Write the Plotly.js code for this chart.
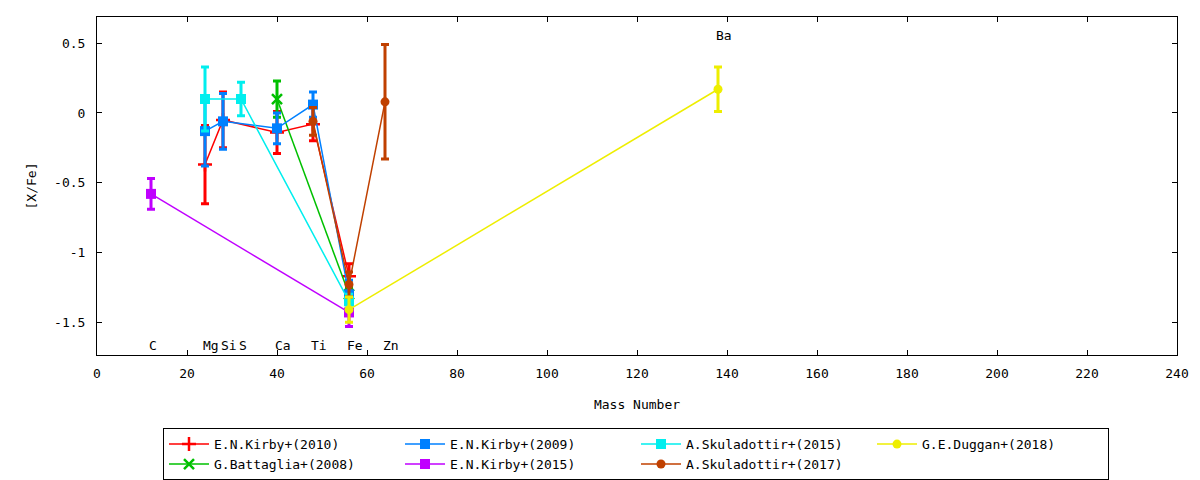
<!DOCTYPE html>
<html>
<head>
<meta charset="utf-8">
<script src="https://cdn.plot.ly/plotly-3.0.1.min.js"></script>
<style>html,body{margin:0;padding:0;background:#fff;}#chart{width:1200px;height:480px;}</style>
</head>
<body>
<div id="chart"></div>
<script>
// ---- data ----
const kirby2010Mass = [24, 28, 40, 48, 56];
const kirby2010Val  = [-0.37, -0.05, -0.14, -0.08, -1.17];
const kirby2010Err  = [0.28, 0.20, 0.15, 0.12, 0.09];

const battaglia2008Mass = [40, 56];
const battaglia2008Val  = [0.10, -1.30];
const battaglia2008Err  = [0.13, 0.05];

const kirby2009Mass = [24, 28, 40, 48, 56];
const kirby2009Val  = [-0.13, -0.06, -0.11, 0.06, -1.30];
const kirby2009Err  = [0.25, 0.20, 0.11, 0.09, 0.10];

const kirby2015Mass = [12, 56];
const kirby2015Val  = [-0.58, -1.43];
const kirby2015Err  = [0.11, 0.10];

const sku2015Mass = [24, 32, 56];
const sku2015Val  = [0.10, 0.10, -1.35];
const sku2015Err  = [0.23, 0.12, 0.05];

const sku2017Mass = [48, 56, 64];
const sku2017Val  = [-0.06, -1.23, 0.08];
const sku2017Err  = [0.10, 0.09, 0.41];

const duggan2018Mass = [56, 138];
const duggan2018Val  = [-1.41, 0.17];
const duggan2018Err  = [0.09, 0.16];

const elemNames = ["C", "Mg", "Si", "S", "Ca", "Ti", "Fe", "Zn", "Ba"];
const elemMass  = [12, 24, 28, 32, 40, 48, 56, 64, 138];
const elemLabelY = [-1.665, -1.665, -1.665, -1.665, -1.665, -1.665, -1.665, -1.665, 0.552];

const xTickVals = [0, 20, 40, 60, 80, 100, 120, 140, 160, 180, 200, 220, 240];
const yTickVals = [0.5, 0, -0.5, -1, -1.5];
const yTickText = ["0.5", "0", "-0.5", "-1", "-1.5"];

// ---- styling ----
const FONT = "DejaVu Sans Mono, monospace";

function series(name, mass, val, err, color, symbol, rank) {
  const thin = symbol.indexOf('thin') >= 0;
  return {
    type: 'scatter', mode: 'lines+markers', name: name,
    x: mass, y: val,
    legendrank: rank,
    line: {color: color, width: 1.5},
    marker: thin ? {symbol: symbol, size: 10, color: color, line: {color: color, width: 2.5}}
                 : {symbol: symbol, size: symbol === 'circle' ? 9 : 10, color: color, line: {width: 0}},
    error_y: {type: 'data', array: err, visible: true, color: color, thickness: 3, width: 4}
  };
}

const traces = [
  series('E.N.Kirby+(2010)', kirby2010Mass, kirby2010Val, kirby2010Err, '#ff0000', 'cross-thin', 1),
  series('G.Battaglia+(2008)', battaglia2008Mass, battaglia2008Val, battaglia2008Err, '#00c000', 'x-thin', 5),
  series('E.N.Kirby+(2009)', kirby2009Mass, kirby2009Val, kirby2009Err, '#0080ff', 'square', 2),
  series('E.N.Kirby+(2015)', kirby2015Mass, kirby2015Val, kirby2015Err, '#c000ff', 'square', 6),
  series('A.Skuladottir+(2015)', sku2015Mass, sku2015Val, sku2015Err, '#00eeee', 'square', 3),
  series('A.Skuladottir+(2017)', sku2017Mass, sku2017Val, sku2017Err, '#c04000', 'circle', 7),
  series('G.E.Duggan+(2018)', duggan2018Mass, duggan2018Val, duggan2018Err, '#eeee00', 'circle', 4),
];

const annotations = elemNames.map((t, i) => ({
  x: elemMass[i], y: elemLabelY[i], xref: 'x', yref: 'y',
  text: t, showarrow: false, xanchor: 'left', yanchor: 'middle', xshift: -4,
  font: {family: FONT, size: 13, color: '#000'}
}));

const axisCommon = {
  showgrid: false, zeroline: false, showline: true, linecolor: '#000', linewidth: 1,
  mirror: 'ticks', ticks: 'inside', ticklen: 5, tickcolor: '#000', tickwidth: 1,
  tickfont: {family: FONT, size: 13, color: '#000'}
};

const layout = {
  width: 1200, height: 480,
  paper_bgcolor: '#fff', plot_bgcolor: '#fff',
  margin: {l: 97, r: 23, t: 17, b: 125},
  font: {family: FONT, size: 13, color: '#000'},
  xaxis: Object.assign({}, axisCommon, {
    range: [0, 240], tickmode: 'array', tickvals: xTickVals,
    ticklabelstandoff: 6,
    title: {text: 'Mass Number', font: {family: FONT, size: 13, color: '#000'}, standoff: 20}
  }),
  yaxis: Object.assign({}, axisCommon, {
    range: [-1.735, 0.688], tickmode: 'array', tickvals: yTickVals, ticktext: yTickText,
    ticklabelstandoff: 8,
    title: {text: '[X/Fe]', font: {family: FONT, size: 13, color: '#000'}, standoff: 14}
  }),
  showlegend: true,
  legend: {
    orientation: 'h', xref: 'container', yref: 'container',
    x: 0.53, xanchor: 'center', y: 0.108, yanchor: 'top',
    entrywidth: 181, entrywidthmode: 'pixels',
    bordercolor: '#000', borderwidth: 1, bgcolor: '#fff',
    font: {family: FONT, size: 13, color: '#000'},
    traceorder: 'normal', itemwidth: 40, tracegroupgap: 0
  },
  annotations: annotations
};

Plotly.newPlot('chart', traces, layout, {staticPlot: true, displayModeBar: false});
</script>
</body>
</html>
